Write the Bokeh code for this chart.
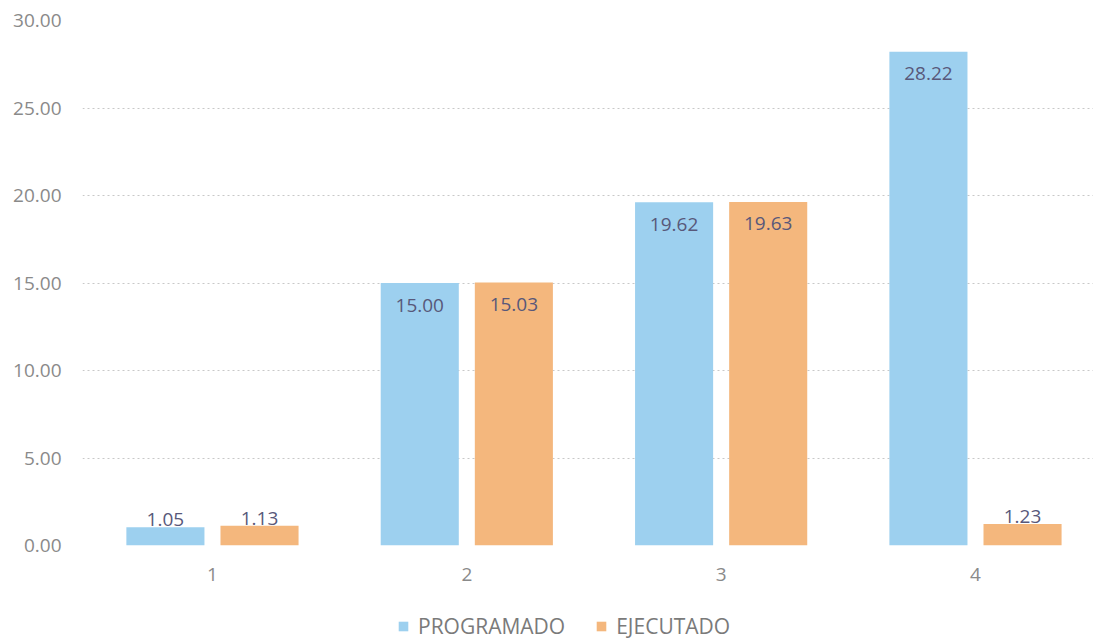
from bokeh.plotting import figure
from bokeh.layouts import column
from bokeh.models import ColumnDataSource, Range1d, FixedTicker, NumeralTickFormatter, Legend, LegendItem
from bokeh.embed import file_html
from bokeh.resources import INLINE
from bokeh.core.properties import value

categories = ["1", "2", "3", "4"]
programado = [1.05, 15.00, 19.62, 28.22]
ejecutado = [1.13, 15.03, 19.63, 1.23]
y_ticks = [0, 5, 10, 15, 20, 25, 30]
series_names = ["PROGRAMADO", "EJECUTADO"]

BLUE = "#9dd0ef"
ORANGE = "#f4b77d"
FONT = "Open Sans"

xs = [i + 1 for i in range(len(categories))]
off = 0.185
bw = 0.307

p = figure(width=1093, height=610, output_backend="svg", toolbar_location=None,
           x_range=Range1d(0.489, 4.464), y_range=Range1d(0, 30))
p.min_border_left = 82
p.min_border_right = 0
p.min_border_top = 20
p.min_border_bottom = 65
p.outline_line_color = None
p.background_fill_color = "white"
p.border_fill_color = "white"

def label_pos(vals):
    ys, bases, offs = [], [], []
    for v in vals:
        if v < 3:
            ys.append(v); bases.append("bottom"); offs.append(-1)
        else:
            ys.append(v); bases.append("middle"); offs.append(22)
    return ys, bases, offs

src_p = ColumnDataSource(dict(x=[x - off for x in xs], top=programado,
                              lab=[f"{v:.2f}" for v in programado]))
src_e = ColumnDataSource(dict(x=[x + off for x in xs], top=ejecutado,
                              lab=[f"{v:.2f}" for v in ejecutado]))

p.vbar(x="x", top="top", width=bw, bottom=0, source=src_p, fill_color=BLUE, line_color=None)
p.vbar(x="x", top="top", width=bw, bottom=0, source=src_e, fill_color=ORANGE, line_color=None)

for src, vals in ((src_p, programado), (src_e, ejecutado)):
    ys, bases, offs = label_pos(vals)
    src.data["ly"] = ys
    src.data["lb"] = bases
    src.data["lo"] = offs
    p.text(x="x", y="ly", text="lab", source=src, text_align="center", text_baseline="lb",
           y_offset="lo", text_font=value(FONT), text_font_size="19px", text_color="#58587a")

p.xaxis.ticker = FixedTicker(ticks=xs)
p.xaxis.major_label_overrides = {x: c for x, c in zip(xs, categories)}
p.yaxis.ticker = FixedTicker(ticks=y_ticks)
p.yaxis.formatter = NumeralTickFormatter(format="0.00")
for ax in (p.xaxis[0], p.yaxis[0]):
    ax.axis_line_color = None
    ax.major_tick_line_color = None
    ax.minor_tick_line_color = None
    ax.major_label_text_font = FONT
    ax.major_label_text_font_size = "19px"
    ax.major_label_text_color = "#8a8a8a"
p.yaxis.major_label_standoff = 15
p.xaxis.major_label_standoff = 16
p.xgrid.grid_line_color = None
p.ygrid.ticker = FixedTicker(ticks=y_ticks)
p.ygrid.grid_line_color = "#c8c8c8"
p.ygrid.grid_line_dash = "2 3"
p.ygrid.grid_line_width = 1

# legend strip below the chart (its bars lie outside this strip's visible ranges)
lf = figure(width=1093, height=32, output_backend="svg", toolbar_location=None,
            x_range=Range1d(-101, -100), y_range=Range1d(100, 101),
            x_axis_type=None, y_axis_type=None)
lf.min_border = 0
lf.outline_line_color = None
lf.xgrid.grid_line_color = None
lf.ygrid.grid_line_color = None
lr1 = lf.vbar(x="x", top="top", width=bw, bottom=0, source=src_p, fill_color=BLUE, line_color=None)
lr2 = lf.vbar(x="x", top="top", width=bw, bottom=0, source=src_e, fill_color=ORANGE, line_color=None)
legend = Legend(items=[LegendItem(label=series_names[0], renderers=[lr1]),
                       LegendItem(label=series_names[1], renderers=[lr2])],
                orientation="horizontal", location=(315, 2))
legend.label_text_font = FONT
legend.label_text_font_size = "21px"
legend.label_text_color = "#7a7a7a"
legend.glyph_width = 12
legend.glyph_height = 12
legend.label_height = 20
legend.spacing = 30
legend.label_standoff = 9
legend.border_line_color = None
legend.background_fill_alpha = 0
legend.margin = 0
legend.padding = 0
lf.add_layout(legend, "center")

layout = column(p, lf, spacing=0)
open("out.html", "w").write(file_html(layout, INLINE))
